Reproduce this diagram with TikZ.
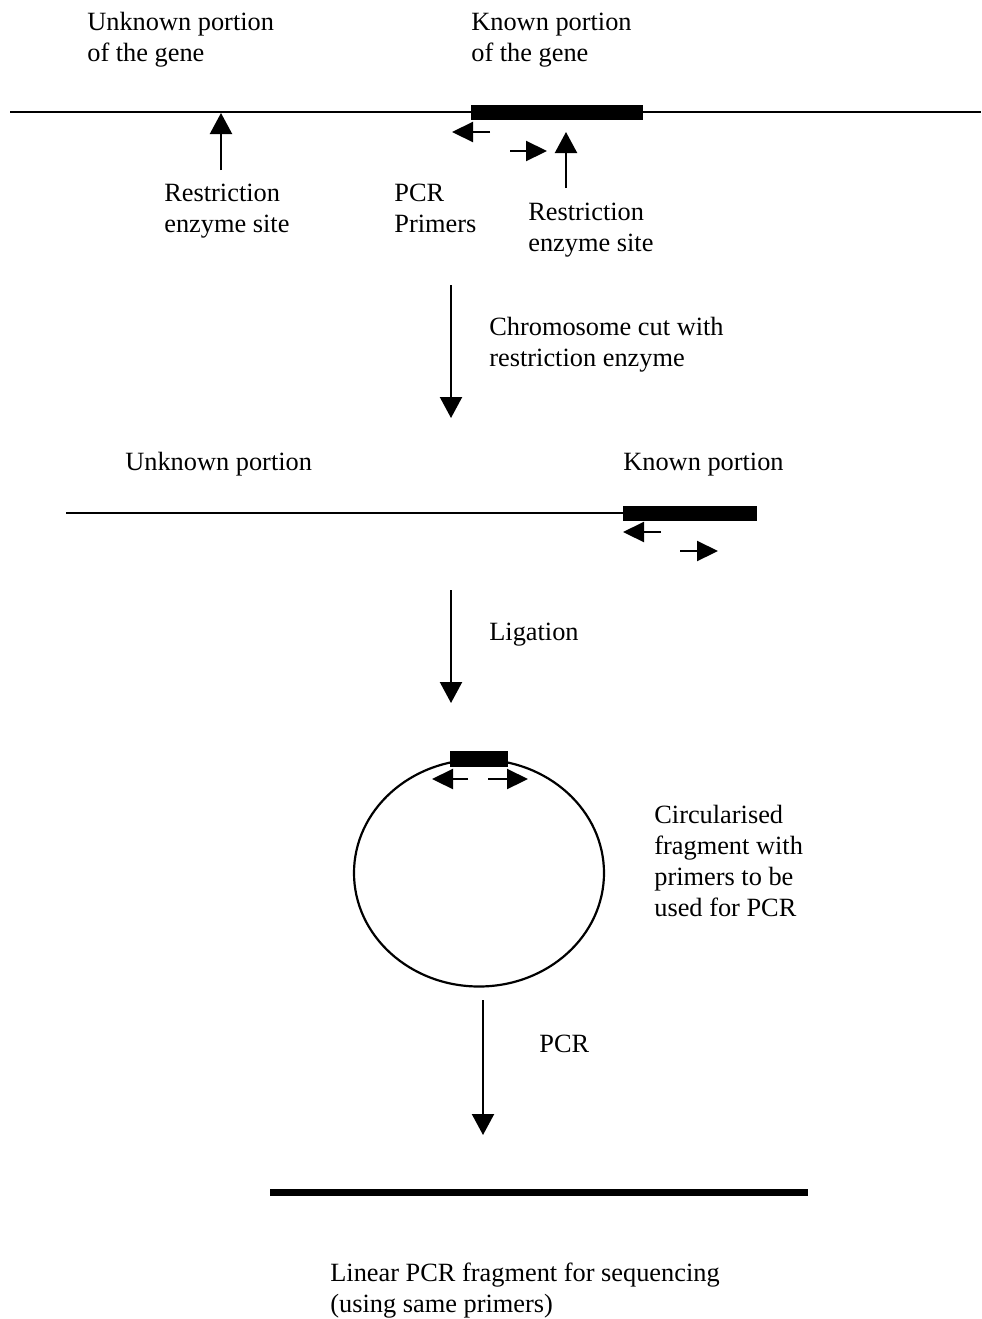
\documentclass[tikz,border=0pt]{standalone}
\usepackage{fontspec}
\setmainfont{Liberation Serif}
\usetikzlibrary{arrows.meta}
\begin{document}
\begin{tikzpicture}[x=0.02cm,y=-0.02cm,
  lbl/.style={font=\fontsize{15}{17.6}\selectfont, inner sep=0pt, align=left, anchor=base west},
  dna/.style={line width=1.25pt},
  gene/.style={fill=black, draw=none, inner sep=0pt, minimum height=0.3cm},
  flow/.style={line width=1.25pt, -{Triangle[length=0.42cm,width=0.44cm]}},
  primer/.style={line width=1.25pt, -{Triangle[length=0.42cm,width=0.4cm]}},
  pcrline/.style={line width=4pt}]
\useasboundingbox (0,0) rectangle (981,1319);

% ---- top chromosome ----
\coordinate (l1a) at (10,112);
\coordinate (l1b) at (981,112);
\draw[dna] (l1a) -- (l1b);
\node[gene, minimum width=3.44cm, anchor=west] (bar1) at (471,112) {};
\coordinate (p1s) at (490,132); \coordinate (p1e) at (452,132);
\coordinate (p2s) at (510,151); \coordinate (p2e) at (547,151);
\draw[primer] (p1s) -- (p1e);
\draw[primer] (p2s) -- (p2e);
\coordinate (r1s) at (221,170); \coordinate (r1e) at (221,113);
\coordinate (r2s) at (566,188); \coordinate (r2e) at (566,132);
\draw[flow] (r1s) -- (r1e);
\draw[flow] (r2s) -- (r2e);

\node[lbl] (t1) at (87,61) {Unknown portion\\of the gene};
\node[lbl] (t2) at (471,61) {Known portion\\of the gene};
\node[lbl] (t3) at (164,232) {Restriction\\enzyme site};
\node[lbl] (t4) at (394,232) {PCR\\Primers};
\node[lbl] (t5) at (528,251) {Restriction\\enzyme site};

% ---- cut ----
\coordinate (a1s) at (451,285); \coordinate (a1e) at (451,418);
\draw[flow] (a1s) -- (a1e);
\node[lbl] (t6) at (489,366) {Chromosome cut with\\restriction enzyme};

% ---- fragment ----
\node[lbl] (t7) at (125,470) {Unknown portion};
\node[lbl] (t8) at (623,470) {Known portion};
\coordinate (l2a) at (66,513);
\node[gene, minimum width=2.68cm, anchor=west] (bar2) at (623,513) {};
\draw[dna] (l2a) -- (bar2.west);
\coordinate (p3s) at (661,532); \coordinate (p3e) at (623,532);
\coordinate (p4s) at (680,551); \coordinate (p4e) at (718,551);
\draw[primer] (p3s) -- (p3e);
\draw[primer] (p4s) -- (p4e);

% ---- ligation ----
\coordinate (a2s) at (451,590); \coordinate (a2e) at (451,703);
\draw[flow] (a2s) -- (a2e);
\node[lbl] (t9) at (489,640) {Ligation};

% ---- circle ----
\draw[dna] (479,873) ellipse [x radius=125, y radius=113.5];
\coordinate (circ) at (479,873);
\node[gene, minimum width=1.16cm, minimum height=0.32cm] (bar3) at (479,759) {};
\coordinate (p5s) at (468,779); \coordinate (p5e) at (432,779);
\coordinate (p6s) at (488,779); \coordinate (p6e) at (528,779);
\draw[primer] (p5s) -- (p5e);
\draw[primer] (p6s) -- (p6e);
\node[lbl] (t10) at (654,916) {Circularised\\fragment with\\primers to be\\used for PCR};

% ---- PCR ----
\coordinate (a3s) at (483,1000); \coordinate (a3e) at (483,1135);
\draw[flow] (a3s) -- (a3e);
\node[lbl] (t11) at (539,1052) {PCR};

\coordinate (l3a) at (270,1192); \coordinate (l3b) at (808,1192);
\draw[pcrline] (l3a) -- (l3b);
\node[lbl] (t12) at (330,1312) {Linear PCR fragment for sequencing\\(using same primers)};
\end{tikzpicture}
\end{document}
